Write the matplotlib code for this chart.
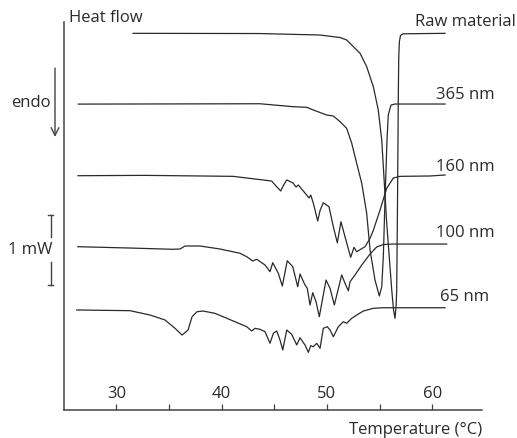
import numpy as np
import matplotlib.pyplot as plt

plt.rcParams['font.family'] = ['Open Sans', 'DejaVu Sans']

# temperature (°C) and heat flow (mW, curves stacked with offsets)
raw_t = [31.59, 43.64, 49.33, 51.24, 51.87, 53.14, 53.77, 54.40, 54.87, 55.20, 55.67,
         56.15, 56.32, 56.46, 56.57, 56.62, 56.70, 56.77, 56.81, 56.87, 56.98, 57.22, 61.21]
raw_hf = [5.381, 5.378, 5.357, 5.321, 5.286, 5.096, 4.904, 4.619, 4.286, 3.857, 2.671,
          1.714, 1.429, 1.310, 1.500, 1.714, 3.000, 4.430, 5.000, 5.257, 5.350, 5.374, 5.381]

nm365_t = [26.39, 43.64, 46.78, 48.08, 48.70, 49.97, 50.60, 51.24, 51.87, 52.35, 52.82,
           53.30, 53.77, 54.09, 54.56, 54.97, 55.20, 55.35, 55.51, 55.70, 55.82, 56.08,
           56.46, 61.21]
nm365_hf = [4.370, 4.375, 4.333, 4.324, 4.286, 4.214, 4.200, 4.119, 4.024, 3.810, 3.524,
            3.239, 2.810, 2.286, 1.857, 1.629, 1.761, 2.190, 3.000, 3.857, 4.214, 4.357,
            4.371, 4.371]

nm160_t = [26.36, 32.66, 41.08, 43.93, 44.75, 45.16, 45.61, 45.87, 46.18, 46.78, 47.06,
           47.28, 47.91, 48.30, 48.46, 48.70, 49.12, 49.34, 49.65, 50.19, 50.60, 50.98,
           51.33, 51.71, 52.25, 52.57, 52.82, 53.20, 53.61, 54.09, 54.41, 55.04, 55.67,
           56.30, 56.94, 59.78, 61.21]
nm160_hf = [3.347, 3.352, 3.338, 3.286, 3.271, 3.200, 3.129, 3.210, 3.286, 3.243, 3.186,
            3.214, 3.100, 3.029, 3.071, 2.957, 2.700, 2.850, 2.961, 2.904, 2.619, 2.390,
            2.690, 2.476, 2.181, 2.324, 2.261, 2.296, 2.333, 2.453, 2.571, 2.857, 3.167,
            3.314, 3.338, 3.343, 3.357]

nm100_t = [26.34, 31.30, 35.38, 36.05, 36.52, 37.94, 39.85, 41.74, 42.38, 42.95, 43.33,
           44.12, 44.59, 44.85, 45.38, 45.76, 46.23, 46.75, 47.22, 47.44, 47.91, 48.13,
           48.39, 48.65, 48.96, 49.27, 49.91, 50.29, 50.70, 51.40, 51.71, 52.03, 52.19,
           52.66, 53.30, 54.09, 54.72, 55.35, 56.27, 61.37]
nm100_hf = [2.333, 2.314, 2.296, 2.300, 2.343, 2.343, 2.300, 2.239, 2.190, 2.129, 2.153,
            2.071, 1.976, 2.104, 1.953, 1.771, 2.133, 2.047, 1.761, 1.943, 1.786, 1.739,
            1.500, 1.676, 1.547, 1.333, 1.857, 1.739, 1.500, 1.929, 1.810, 1.704, 1.833,
            1.929, 2.071, 2.229, 2.329, 2.364, 2.371, 2.371]

nm65_t = [26.24, 31.30, 33.20, 34.62, 35.57, 36.24, 36.81, 37.19, 37.66, 38.23, 39.37,
          41.27, 42.38, 42.85, 43.17, 43.64, 44.12, 44.59, 44.91, 45.23, 45.54, 45.80,
          46.18, 46.65, 47.13, 47.44, 47.91, 48.23, 48.46, 48.70, 49.03, 49.34, 49.65,
          50.03, 50.29, 50.60, 51.08, 51.55, 51.87, 52.35, 52.82, 53.45, 54.40, 55.35, 61.21]
nm65_hf = [1.429, 1.419, 1.357, 1.286, 1.167, 1.071, 1.143, 1.333, 1.404, 1.414, 1.381,
           1.261, 1.190, 1.129, 1.167, 1.153, 1.119, 0.953, 1.096, 1.129, 1.000, 0.857,
           1.143, 1.081, 0.929, 1.033, 0.929, 0.824, 0.920, 0.904, 0.953, 0.881, 1.167,
           1.190, 1.143, 1.047, 1.190, 1.261, 1.239, 1.310, 1.357, 1.414, 1.453, 1.461, 1.461]

curves = [(raw_t, raw_hf), (nm365_t, nm365_hf), (nm160_t, nm160_hf),
          (nm100_t, nm100_hf), (nm65_t, nm65_hf)]
labels = ["Raw material", "365 nm", "160 nm", "100 nm", "65 nm"]

major_ticks = [30, 40, 50, 60]
minor_ticks = [35, 45, 55]

ink = '#2a2a2a'
fs = 12

fig = plt.figure(figsize=(5.17, 4.38), dpi=100)
ax = fig.add_axes([0.1244, 0.0639, 0.8073, 0.8859])

for t, hf in curves:
    ax.plot(t, hf, color=ink, lw=0.9, solid_joinstyle='round')

ax.set_xlim(25.06, 64.69)
ax.set_ylim(0, 5.543)

for s in ['top', 'right']:
    ax.spines[s].set_visible(False)
for s in ['left', 'bottom']:
    ax.spines[s].set_color('#444444')
    ax.spines[s].set_linewidth(1.1)

ax.set_yticks([])
ax.set_xticks(major_ticks)
ax.set_xticks(minor_ticks, minor=True)
ax.tick_params(axis='x', which='both', direction='in', length=4, width=0.9,
               color='#444444', labelbottom=False)
for v in major_ticks:
    ax.text(v, 0.041, str(v), transform=ax.get_xaxis_transform(), ha='center',
            va='center', fontsize=fs, color=ink)

# labels
fig.text(69 / 517, 1 - 18 / 438, "Heat flow", ha='left', va='center', fontsize=fs, color=ink)
fig.text(516 / 517, 1 - 22 / 438, labels[0], ha='right', va='center', fontsize=fs, color=ink)
label_pos = [(436, 95), (436, 167), (436, 233), (440, 297)]
for (px, py), lab in zip(label_pos, labels[1:]):
    fig.text(px / 517, 1 - py / 438, lab, ha='left', va='center', fontsize=fs, color=ink)
fig.text(482 / 517, 1 - 430 / 438, "Temperature (°C)", ha='right', va='center',
         fontsize=fs, color=ink)

# endo arrow
fig.text(31 / 517, 1 - 103 / 438, "endo", ha='center', va='center', fontsize=fs, color=ink)
ax.annotate("", xy=(55 / 517, 1 - 137 / 438), xytext=(55 / 517, 1 - 68 / 438),
            xycoords='figure fraction', textcoords='figure fraction',
            arrowprops=dict(arrowstyle='->', color='#444444', lw=1.0,
                            mutation_scale=14, shrinkA=0, shrinkB=0))

# 1 mW scale bar
bx = 50.7 / 517
for y0, y1 in [(215, 237), (262, 285)]:
    fig.add_artist(plt.Line2D([bx, bx], [1 - y0 / 438, 1 - y1 / 438], color='#444444', lw=1.0))
for y in [215, 285]:
    fig.add_artist(plt.Line2D([bx - 2.5 / 517, bx + 2.5 / 517], [1 - y / 438, 1 - y / 438],
                              color='#444444', lw=1.0))
fig.text(30.5 / 517, 1 - 250 / 438, "1 mW", ha='center', va='center', fontsize=fs, color=ink)

fig.savefig("out.png", dpi=100)
